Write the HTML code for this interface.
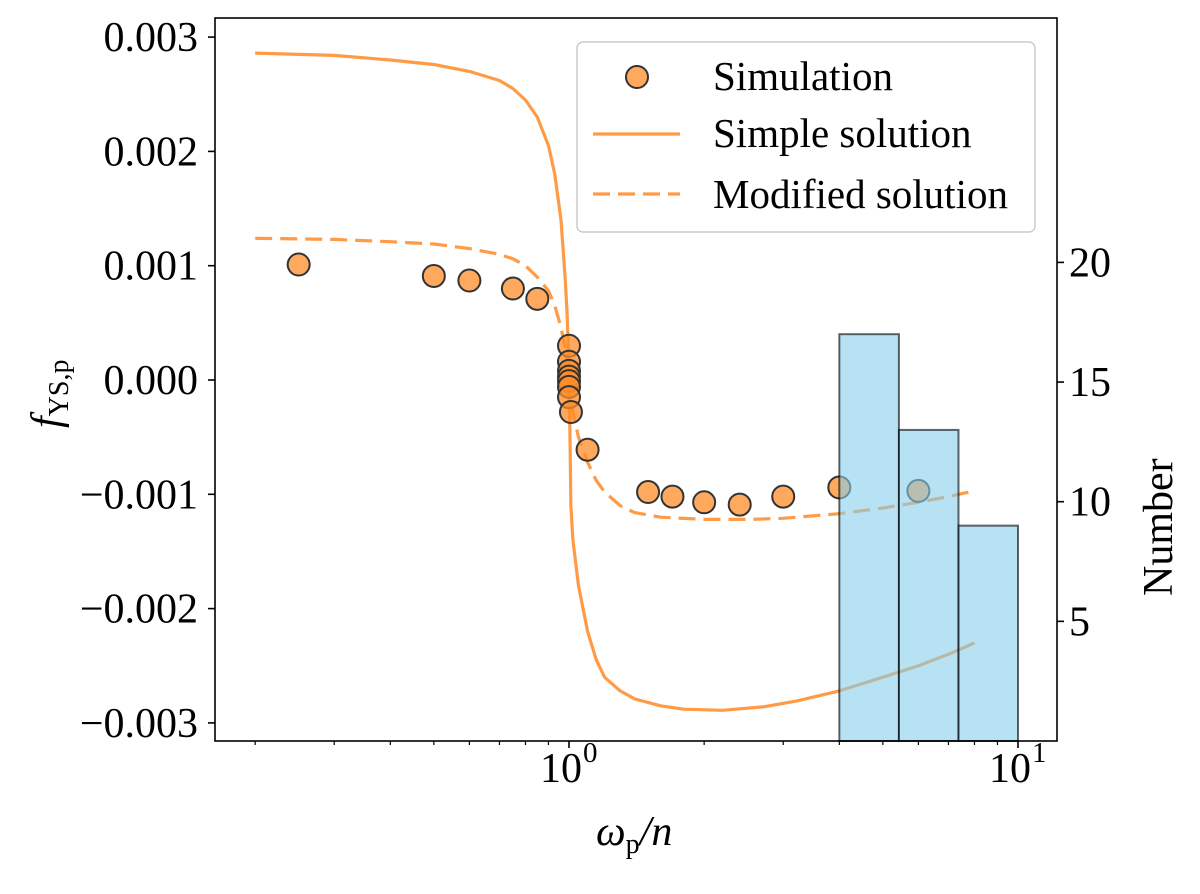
<!DOCTYPE html>
<html><head><meta charset="utf-8"><style>
body{margin:0;background:#fff}
svg text{font-family:"Liberation Serif",serif;fill:#000}
</style></head><body>
<svg id="c" width="1200" height="889" xmlns="http://www.w3.org/2000/svg"></svg>
<script>
const simX=[0.25,0.5,0.6,0.75,0.85,1.0,1.0,1.0,1.0,1.0,1.0,1.0,1.01,1.1,1.5,1.7,2.0,2.4,3.0,4.0,6.0];
const simY=[0.00101,0.00091,0.00087,0.0008,0.00071,0.0003,0.00016,0.00008,0.00003,-0.00001,-0.00006,-0.00015,-0.00028,-0.00061,-0.00098,-0.00102,-0.00107,-0.00109,-0.00102,-0.00094,-0.00097];
const simpleX=[0.2,0.3,0.4,0.5,0.6,0.7,0.75,0.8,0.85,0.9,0.93,0.96,0.98,0.99,1.0,1.005,1.01,1.02,1.05,1.1,1.15,1.2,1.3,1.4,1.6,1.8,2.2,2.7,3.2,4,5,6,7,8];
const simpleY=[0.00286,0.00284,0.0028,0.00276,0.0027,0.00262,0.00255,0.00245,0.0023,0.00205,0.0018,0.0014,0.0009,0.0006,0.0001,-0.0005,-0.0011,-0.0014,-0.0018,-0.0022,-0.00245,-0.0026,-0.00272,-0.00279,-0.00285,-0.00288,-0.00289,-0.00286,-0.00281,-0.00272,-0.0026,-0.0025,-0.0024,-0.0023];
const modX=[0.2,0.3,0.4,0.5,0.6,0.7,0.75,0.8,0.85,0.9,0.93,0.96,0.98,1.0,1.02,1.05,1.1,1.15,1.2,1.3,1.4,1.6,2.0,2.5,3,4,5,6,7,8];
const modY=[0.00124,0.00123,0.00121,0.00119,0.00115,0.0011,0.00106,0.001,0.0009,0.00078,0.00065,0.00046,0.00028,0,-0.00028,-0.0005,-0.00072,-0.00088,-0.00098,-0.0011,-0.00116,-0.0012,-0.00122,-0.00122,-0.00121,-0.00117,-0.00112,-0.00107,-0.00102,-0.00097];
const binEdges=[4,5.43,7.37,10];
const binCounts=[17,13,9];
const yTicks=[0.003,0.002,0.001,0,-0.001,-0.002,-0.003];
const yTickLabels=["0.003","0.002","0.001","0.000","\u22120.001","\u22120.002","\u22120.003"];
const y2Ticks=[5,10,15,20];

const NS="http://www.w3.org/2000/svg",svg=document.getElementById('c');
const L=215,R=1057,T=18,B=741;
const X=v=>569+449*Math.log10(v);
const Y=v=>380-v*114300;
const Y2=v=>741-v*23.93;
function el(t,a,p){const e=document.createElementNS(NS,t);for(const k in a)e.setAttribute(k,a[k]);(p||svg).appendChild(e);return e;}
function path(xs,ys,dash){let d=xs.map((x,i)=>(i?'L':'M')+X(x).toFixed(1)+','+Y(ys[i]).toFixed(1)).join('');
 const e=el('path',{d:d,fill:'none',stroke:'#ff9a45','stroke-width':3.2,'stroke-linejoin':'round'});if(dash)e.setAttribute('stroke-dasharray','17,8');return e;}

const s=path(simpleX,simpleY,false);


const m=path(modX,modY,true);


simX.forEach((x,i)=>{const c=el('circle',{cx:X(x),cy:Y(simY[i]),r:11,fill:'rgba(255,140,40,0.75)',stroke:'#333','stroke-width':2});
 
 });
binCounts.forEach((n,i)=>{const x0=X(binEdges[i]),x1=X(binEdges[i+1]);
 const r=el('rect',{x:x0,y:Y2(n),width:x1-x0,height:741-Y2(n),fill:'rgba(135,206,235,0.6)',stroke:'rgba(0,0,0,0.6)','stroke-width':2});
 
 });
const f=el('rect',{x:L,y:T,width:R-L,height:B-T,fill:'none',stroke:'#000','stroke-width':1.6});


yTicks.forEach((v,i)=>{el('line',{x1:L-7,x2:L,y1:Y(v),y2:Y(v),stroke:'#000','stroke-width':1.6});
 const t=el('text',{x:L-17,y:Y(v)+14,'text-anchor':'end','font-size':42});t.textContent=yTickLabels[i];
 
 });
y2Ticks.forEach(v=>{el('line',{x1:R,x2:R+7,y1:Y2(v),y2:Y2(v),stroke:'#000','stroke-width':1.6});
 const t=el('text',{x:R+12,y:Y2(v)+14,'font-size':42});t.textContent=v;
 
 });
[0.2,0.3,0.4,0.5,0.6,0.7,0.8,0.9,2,3,4,5,6,7,8,9].forEach(v=>el('line',{x1:X(v),x2:X(v),y1:B,y2:B+4,stroke:'#000','stroke-width':1.2}));
[1,10].forEach((v,i)=>{el('line',{x1:X(v),x2:X(v),y1:B,y2:B+7,stroke:'#000','stroke-width':1.6});
 const t=el('text',{x:X(v)-29,y:782,'font-size':42});t.textContent='10';
 
 
 const e=el('text',{x:X(v)+14,y:762,'font-size':29});e.textContent=String(i);});
</script>
<svg width="1200" height="889" style="position:absolute;left:0;top:0" xmlns="http://www.w3.org/2000/svg">
<g>
<rect x="577" y="42" width="458" height="190" rx="6" fill="rgba(255,255,255,0.8)" stroke="#ccc" stroke-width="1.5"/>
<circle cx="637" cy="77" r="11" fill="rgba(255,140,40,0.75)" stroke="#333" stroke-width="2"/>
<text x="713" y="90" font-size="41" font-family="Liberation Serif,serif">Simulation</text>
<line x1="593" y1="134" x2="680" y2="134" stroke="#ff9a45" stroke-width="3.2"/>
<text x="713" y="147" font-size="41" font-family="Liberation Serif,serif">Simple solution</text>
<line x1="593" y1="194" x2="680" y2="194" stroke="#ff9a45" stroke-width="3.2" stroke-dasharray="17,8"/>
<text x="713" y="208" font-size="41" font-family="Liberation Serif,serif">Modified solution</text>
</g>
<text x="596" y="845" font-size="42" font-family="Liberation Serif,serif" font-style="italic">ω<tspan font-size="28" font-style="normal" dy="8">p</tspan><tspan dy="-8">/n</tspan></text>
<text transform="translate(60,428) rotate(-90)" font-size="42" font-family="Liberation Serif,serif" font-style="italic">f<tspan font-size="28" font-style="normal" dy="8">YS,p</tspan></text>
<text transform="translate(1172,596) rotate(-90)" font-size="42" font-family="Liberation Serif,serif">Number</text>
</svg>
</body></html>
